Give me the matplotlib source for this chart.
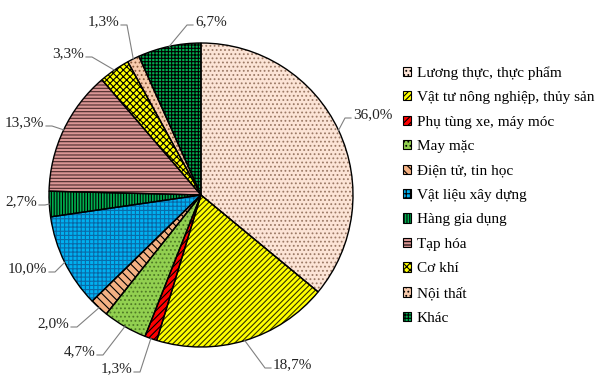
import matplotlib
matplotlib.use('Agg')
import matplotlib.pyplot as plt
from matplotlib.patches import Patch
import numpy as np

plt.rcParams['font.family'] = ['Liberation Serif', 'DejaVu Serif']
plt.rcParams['hatch.linewidth'] = 0.8

categories = ['Lương thực, thực phẩm', 'Vật tư nông nghiệp, thủy sản', 'Phụ tùng xe, máy móc',
              'May mặc', 'Điện tử, tin học', 'Vật liệu xây dựng', 'Hàng gia dụng',
              'Tạp hóa', 'Cơ khí', 'Nội thất', 'Khác']
values = [36.0, 18.7, 1.3, 4.7, 2.0, 10.0, 2.7, 13.3, 3.3, 1.3, 6.7]

colors = ['#FCE4D6', '#FFFF00', '#FF0000', '#92D050', '#F4B183', '#00B0F0',
          '#00B050', '#DA9694', '#FFFF00', '#F8CBAD', '#00B050']
hatches = ['....', '//////', '/////', '....', '\\\\\\\\', '++++',
           '||||||', '-----', 'xxxxx', '....', '+++++']
hatch_colors = ['#9c7a66', '#333300', '#000000', '#4f7a25', '#000000', '#0a6aa8',
                '#000000', '#4a2a2a', '#000000', '#8a5a3a', '#000000']

# label leader layout in pixels: elbow point, tail direction
label_layout = [(345, 118, 1), (265, 368, 1), (140, 372, -1), (103, 355, -1),
                (77, 327, -1), (55, 272, -1), (45, 205, -1), (52, 126, -1),
                (92, 57, -1), (127, 25, -1), (187, 25, 1)]

W, H = 598, 375
fig = plt.figure(figsize=(W / 100, H / 100), dpi=100)
ax = fig.add_axes([0, 0, 1, 1])
cx, cy, r = 201, H - 195, 152

wedges, _ = ax.pie(values, colors=colors, startangle=90, counterclock=False,
                   center=(cx, cy), radius=r, wedgeprops=dict(linewidth=0))
for w, h, hc in zip(wedges, hatches, hatch_colors):
    w.set_hatch(h)
    w.set_edgecolor(hc)
ax.pie(values, startangle=90, counterclock=False, center=(cx, cy), radius=r,
       wedgeprops=dict(fill=False, edgecolor='black', linewidth=1))

for w, v, (ex, ey, d) in zip(wedges, values, label_layout):
    ang = np.deg2rad((w.theta1 + w.theta2) / 2)
    x0, y0 = cx + r * np.cos(ang), cy + r * np.sin(ang)
    ey = H - ey
    tx = ex + 6 * d
    ax.plot([x0, ex, tx], [y0, ey, ey], color='#808080', lw=0.8)
    ax.text(tx + 2 * d, ey + 3, f'{v:.1f}%'.replace('.', ','), fontsize=11,
            ha='left' if d > 0 else 'right', va='center', color='#222222')

ax.set_xlim(0, W)
ax.set_ylim(0, H)
ax.set_aspect('equal')
ax.axis('off')

handles = [Patch(facecolor=c, edgecolor='black', hatch=h, linewidth=0.8)
           for c, h in zip(colors, hatches)]
ax.legend(handles, categories, loc='upper left', bbox_to_anchor=(403 / W, 1 - 66 / H),
          frameon=False, fontsize=11, handlelength=0.55, handleheight=0.55,
          handletextpad=0.35, labelspacing=0.75, borderpad=0, borderaxespad=0)

fig.savefig('out.png', dpi=100)
